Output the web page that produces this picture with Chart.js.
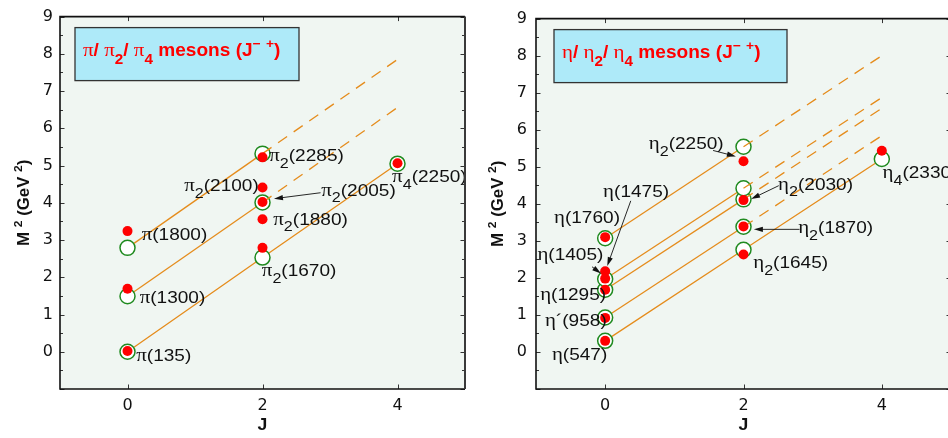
<!DOCTYPE html>
<html>
<head>
<meta charset="utf-8">
<title>Regge trajectories</title>
<script src="https://cdn.jsdelivr.net/npm/chart.js@4.4.1/dist/chart.umd.min.js"></script>
<style>
  html, body { margin: 0; padding: 0; background: #fff; overflow: hidden; }
  #wrap { position: relative; width: 948px; height: 438px; overflow: hidden; }
  #piBox { position: absolute; left: 0; top: 0; width: 474px; height: 438px; }
  #etaBox { position: absolute; left: 474px; top: 0; width: 486px; height: 438px; }
</style>
</head>
<body>
<div id="wrap">
  <div id="piBox"><canvas id="piChart" width="474" height="438"></canvas></div>
  <div id="etaBox"><canvas id="etaChart" width="486" height="438"></canvas></div>
</div>
<script>
// trajectories are sampled at J = 0, 2, 4
const trajJ = [0, 2, 4];

// pi / pi2 / pi4: model states (open circles) and measured mesons (dots)
const piStateJ = [0, 0, 0, 2, 2, 2, 4];
const piStateM2 = [0.00, 1.49, 2.79, 2.53, 4.01, 5.32, 5.05];
const piMesonJ = [0, 0, 0, 2, 2, 2, 2, 2, 4];
const piMesonM2 = [0.02, 1.69, 3.24, 2.79, 3.56, 4.02, 4.41, 5.22, 5.06];
const piTrajM2 = [[0.00, 2.53, 5.05], [1.49, 4.01, 6.56], [2.79, 5.32, 7.85]];
const piTrajSeen = [3, 2, 2];

// eta / eta2 / eta4
const etaStateJ = [0, 0, 0, 0, 0, 2, 2, 2, 2, 2, 4];
const etaStateM2 = [0.30, 0.93, 1.68, 1.97, 3.07, 2.76, 3.38, 4.12, 4.42, 5.54, 5.21];
const etaMesonJ = [0, 0, 0, 0, 0, 0, 2, 2, 2, 2, 4];
const etaMesonM2 = [0.30, 0.92, 1.68, 1.98, 2.18, 3.10, 2.63, 3.39, 4.10, 5.15, 5.43];
const etaTrajM2 = [[0.30, 2.76, 5.21], [0.93, 3.38, 5.84], [1.68, 4.12, 6.58], [1.97, 4.42, 6.87], [3.07, 5.54, 8.00]];
const etaTrajSeen = [3, 2, 2, 2, 2];

// axis ticks
const yTickLabels = [0, 1, 2, 3, 4, 5, 6, 7, 8, 9];
const xTickLabels = [0, 2, 4];

// state names ("_x" = subscript, "^x" = superscript), placed in (J, M^2)
const piNotes = [
  { t: 'π(135)', x: 0.13, y: -0.09 },
  { t: 'π(1300)', x: 0.18, y: 1.48 },
  { t: 'π(1800)', x: 0.21, y: 3.17 },
  { t: 'π_2(2100)', x: 0.84, y: 4.47 },
  { t: 'π_2(2285)', x: 2.10, y: 5.28 },
  { t: 'π_2(2005)', x: 2.87, y: 4.36 },
  { t: 'π_2(1880)', x: 2.16, y: 3.58 },
  { t: 'π_2(1670)', x: 1.99, y: 2.20 },
  { t: 'π_4(2250)', x: 3.92, y: 4.71 }
];
const piArrows = [[2.86, 4.27, 2.17, 4.11]];

const etaNotes = [
  { t: 'η(547)', x: -0.77, y: -0.05 },
  { t: 'η´(958)', x: -0.87, y: 0.87 },
  { t: 'η(1295)', x: -0.94, y: 1.57 },
  { t: 'η(1405)', x: -0.98, y: 2.64 },
  { t: 'η(1475)', x: -0.03, y: 4.36 },
  { t: 'η(1760)', x: -0.74, y: 3.66 },
  { t: 'η_2(2250)', x: 0.63, y: 5.65 },
  { t: 'η_2(2030)', x: 2.50, y: 4.55 },
  { t: 'η_2(1870)', x: 2.79, y: 3.38 },
  { t: 'η_2(1645)', x: 2.14, y: 2.43 },
  { t: 'η_4(2330)', x: 4.01, y: 4.86 }
];
const etaArrows = [
  [-0.19, 2.30, -0.06, 2.12],
  [0.37, 4.08, 0.03, 2.32],
  [1.56, 5.44, 1.89, 5.28],
  [2.51, 4.49, 2.11, 4.13],
  [2.81, 3.31, 2.15, 3.31]
];

const ORANGE = '#e58c1c';
const GREEN = '#1f8a1f';
const RED = '#ff0000';
const PLOT_BG = '#f0f6f2';
const STRETCH = 1.12;

// split a label string into runs: normal / sub / sup, greek or latin
function parseRich(str) {
  const parts = [];
  for (let i = 0; i < str.length; i++) {
    let ch = str[i], kind = 'n';
    if ((ch === '_' || ch === '^') && i + 1 < str.length) {
      kind = ch === '_' ? 'sub' : 'sup';
      ch = str[++i];
    }
    const greek = /[\u0370-\u03ff]/.test(ch);
    const last = parts[parts.length - 1];
    if (last && kind === 'n' && last.kind === 'n' && last.greek === greek) last.t += ch;
    else parts.push({ t: ch, kind, greek });
  }
  return parts;
}

function runFont(p, o) {
  let s = o.size;
  if (p.kind === 'sub') s *= o.subScale || 0.85;
  if (p.kind === 'sup') s *= 0.72;
  if (p.greek) return `${(s * 1.1).toFixed(1)}px "Liberation Serif"`;
  return `${o.bold ? 'bold ' : ''}${s.toFixed(1)}px "Liberation Sans"`;
}

function drawRich(ctx, str, x, yMid, o) {
  const parts = parseRich(str);
  ctx.save();
  ctx.fillStyle = o.color || '#111';
  ctx.textBaseline = 'alphabetic';
  ctx.textAlign = 'left';
  let w = 0;
  parts.forEach(p => { ctx.font = runFont(p, o); p.w = ctx.measureText(p.t).width; w += p.w; });
  ctx.translate(x, yMid);
  if (o.rotate) ctx.rotate(o.rotate);
  ctx.scale(o.stretch || STRETCH, 1);
  let cx = o.align === 'center' ? -w / 2 : 0;
  const base = o.size * 0.36;
  parts.forEach(p => {
    ctx.font = runFont(p, o);
    const dy = p.kind === 'sub' ? o.size * (o.subDrop || 0.4) : p.kind === 'sup' ? -o.size * 0.45 : 0;
    ctx.fillText(p.t, cx, base + dy);
    cx += p.w;
  });
  ctx.restore();
}

function arrow(ctx, x1, y1, x2, y2) {
  const a = Math.atan2(y2 - y1, x2 - x1);
  ctx.save();
  ctx.strokeStyle = '#111';
  ctx.fillStyle = '#111';
  ctx.lineWidth = 0.9;
  ctx.beginPath();
  ctx.moveTo(x1, y1);
  ctx.lineTo(x2 - 6 * Math.cos(a), y2 - 6 * Math.sin(a));
  ctx.stroke();
  ctx.translate(x2, y2);
  ctx.rotate(a);
  ctx.beginPath();
  ctx.moveTo(0, 0);
  ctx.lineTo(-9, -2.6);
  ctx.lineTo(-9, 2.6);
  ctx.closePath();
  ctx.fill();
  ctx.restore();
}

// plot background, frame, inward ticks, names, arrows and the title box
const decor = {
  id: 'decor',
  beforeDatasetsDraw(chart) {
    const { ctx, chartArea: a } = chart;
    ctx.save();
    ctx.fillStyle = PLOT_BG;
    ctx.fillRect(a.left, a.top, a.right - a.left, a.bottom - a.top);
    ctx.restore();
  },
  afterDatasetsDraw(chart, args, opts) {
    const { ctx, chartArea: a, scales: { x, y } } = chart;

    opts.arrows.forEach(([j1, m1, j2, m2]) =>
      arrow(ctx, x.getPixelForValue(j1), y.getPixelForValue(m1), x.getPixelForValue(j2), y.getPixelForValue(m2)));
    opts.notes.forEach(n =>
      drawRich(ctx, n.t, x.getPixelForValue(n.x), y.getPixelForValue(n.y), { size: 17 }));

    // ticks pointing into the plot
    ctx.save();
    ctx.strokeStyle = '#333';
    ctx.lineWidth = 1;
    ctx.beginPath();
    y.ticks.forEach(t => {
      const py = Math.round(y.getPixelForValue(t.value)) + 0.5;
      const len = Number.isInteger(t.value) ? 4.5 : 3;
      ctx.moveTo(a.left, py); ctx.lineTo(a.left + len, py);
      ctx.moveTo(a.right, py); ctx.lineTo(a.right - len, py);
    });
    xTickLabels.forEach(v => {
      const px = Math.round(x.getPixelForValue(v)) + 0.5;
      ctx.moveTo(px, a.bottom); ctx.lineTo(px, a.bottom - 4.5);
      ctx.moveTo(px, a.top); ctx.lineTo(px, a.top + 4.5);
    });
    ctx.stroke();

    // frame
    ctx.strokeStyle = '#111';
    ctx.lineWidth = 1.6;
    ctx.beginPath();
    ctx.moveTo(a.right, a.top); ctx.lineTo(a.left, a.top);
    ctx.lineTo(a.left, a.bottom); ctx.lineTo(a.right, a.bottom);
    ctx.stroke();
    ctx.strokeStyle = '#3a3a3a';
    ctx.lineWidth = 2;
    ctx.beginPath();
    ctx.moveTo(a.right, a.top); ctx.lineTo(a.right, a.bottom);
    ctx.stroke();

    // title box
    const b = opts.box;
    ctx.fillStyle = '#aeeaf9';
    ctx.fillRect(a.left + b.dx, a.top + b.dy, b.w, b.h);
    ctx.strokeStyle = '#333';
    ctx.lineWidth = 1.3;
    ctx.strokeRect(a.left + b.dx, a.top + b.dy, b.w, b.h);
    ctx.restore();
    drawRich(ctx, opts.title, a.left + b.dx + 8, a.top + b.dy + 22,
      { size: 18, bold: true, color: RED, subScale: 0.8, subDrop: 0.45, stretch: 1.06 });

    // axis titles
    drawRich(ctx, 'M ^2 (GeV ^2)', 23, (a.top + a.bottom) / 2,
      { size: 16, bold: true, align: 'center', rotate: -Math.PI / 2, stretch: 1.05 });
    drawRich(ctx, 'J', (a.left + a.right) / 2, 424, { size: 16, bold: true, align: 'center', stretch: 1.1 });
  }
};

function makeChart(id, cfg) {
  const datasets = [];
  cfg.traj.forEach((vals, k) => {
    const pts = trajJ.map((j, i) => ({ x: j, y: vals[i] }));
    const seen = cfg.seen[k];
    datasets.push({ data: pts.slice(0, seen), showLine: true, borderColor: ORANGE, borderWidth: 1.3, pointRadius: 0, order: 3 });
    if (seen < pts.length) {
      datasets.push({ data: pts.slice(seen - 1), showLine: true, borderColor: ORANGE, borderWidth: 1.3,
        borderDash: [11, 8], pointRadius: 0, order: 1 });
    }
  });
  datasets.push({
    data: cfg.stateJ.map((j, i) => ({ x: j, y: cfg.stateM2[i] })),
    pointRadius: 7.5, pointBorderWidth: 1.5, pointBackgroundColor: '#fff', pointBorderColor: GREEN, order: 2
  });
  datasets.push({
    data: cfg.mesonJ.map((j, i) => ({ x: j, y: cfg.mesonM2[i] })),
    pointRadius: 5, pointBorderWidth: 0, pointBackgroundColor: RED, pointBorderColor: RED, order: 0
  });

  const tickFont = { family: 'DejaVu Sans', size: 16 };
  return new Chart(document.getElementById(id), {
    type: 'scatter',
    data: { datasets },
    options: {
      responsive: false,
      animation: false,
      devicePixelRatio: 1,
      layout: { padding: { top: cfg.top, right: 5, left: 0, bottom: 0 } },
      plugins: {
        legend: { display: false },
        tooltip: { enabled: false },
        decor: { notes: cfg.notes, arrows: cfg.arrows, title: cfg.title, box: cfg.box }
      },
      scales: {
        x: {
          type: 'linear', min: -1, max: 5,
          grid: { display: false, drawTicks: false }, border: { display: false },
          ticks: { stepSize: 1, autoSkip: false, maxRotation: 0, padding: 7, color: '#111', font: tickFont,
            callback: v => xTickLabels.includes(v) ? String(v) : '' },
          afterFit: s => { s.height = 49; }
        },
        y: {
          type: 'linear', min: -1, max: 9,
          grid: { display: false, drawTicks: false }, border: { display: false },
          ticks: { stepSize: 0.5, autoSkip: false, padding: cfg.tickPad, color: '#111', font: tickFont,
            callback: v => yTickLabels.includes(v) ? String(v) : '' },
          afterFit: s => { s.width = cfg.axisW; }
        }
      }
    },
    plugins: [decor]
  });
}

makeChart('piChart', {
  stateJ: piStateJ, stateM2: piStateM2, mesonJ: piMesonJ, mesonM2: piMesonM2,
  traj: piTrajM2, seen: piTrajSeen, notes: piNotes, arrows: piArrows,
  title: 'π/ π_2/ π_4 mesons (J^− ^+)', box: { dx: 15, dy: 11, w: 224, h: 53 },
  top: 6, axisW: 60, tickPad: 7
});
makeChart('etaChart', {
  stateJ: etaStateJ, stateM2: etaStateM2, mesonJ: etaMesonJ, mesonM2: etaMesonM2,
  traj: etaTrajM2, seen: etaTrajSeen, notes: etaNotes, arrows: etaArrows,
  title: 'η/ η_2/ η_4 mesons (J^− ^+)', box: { dx: 18, dy: 11, w: 233, h: 53 },
  top: 7, axisW: 62, tickPad: 9
});
</script>
</body>
</html>
